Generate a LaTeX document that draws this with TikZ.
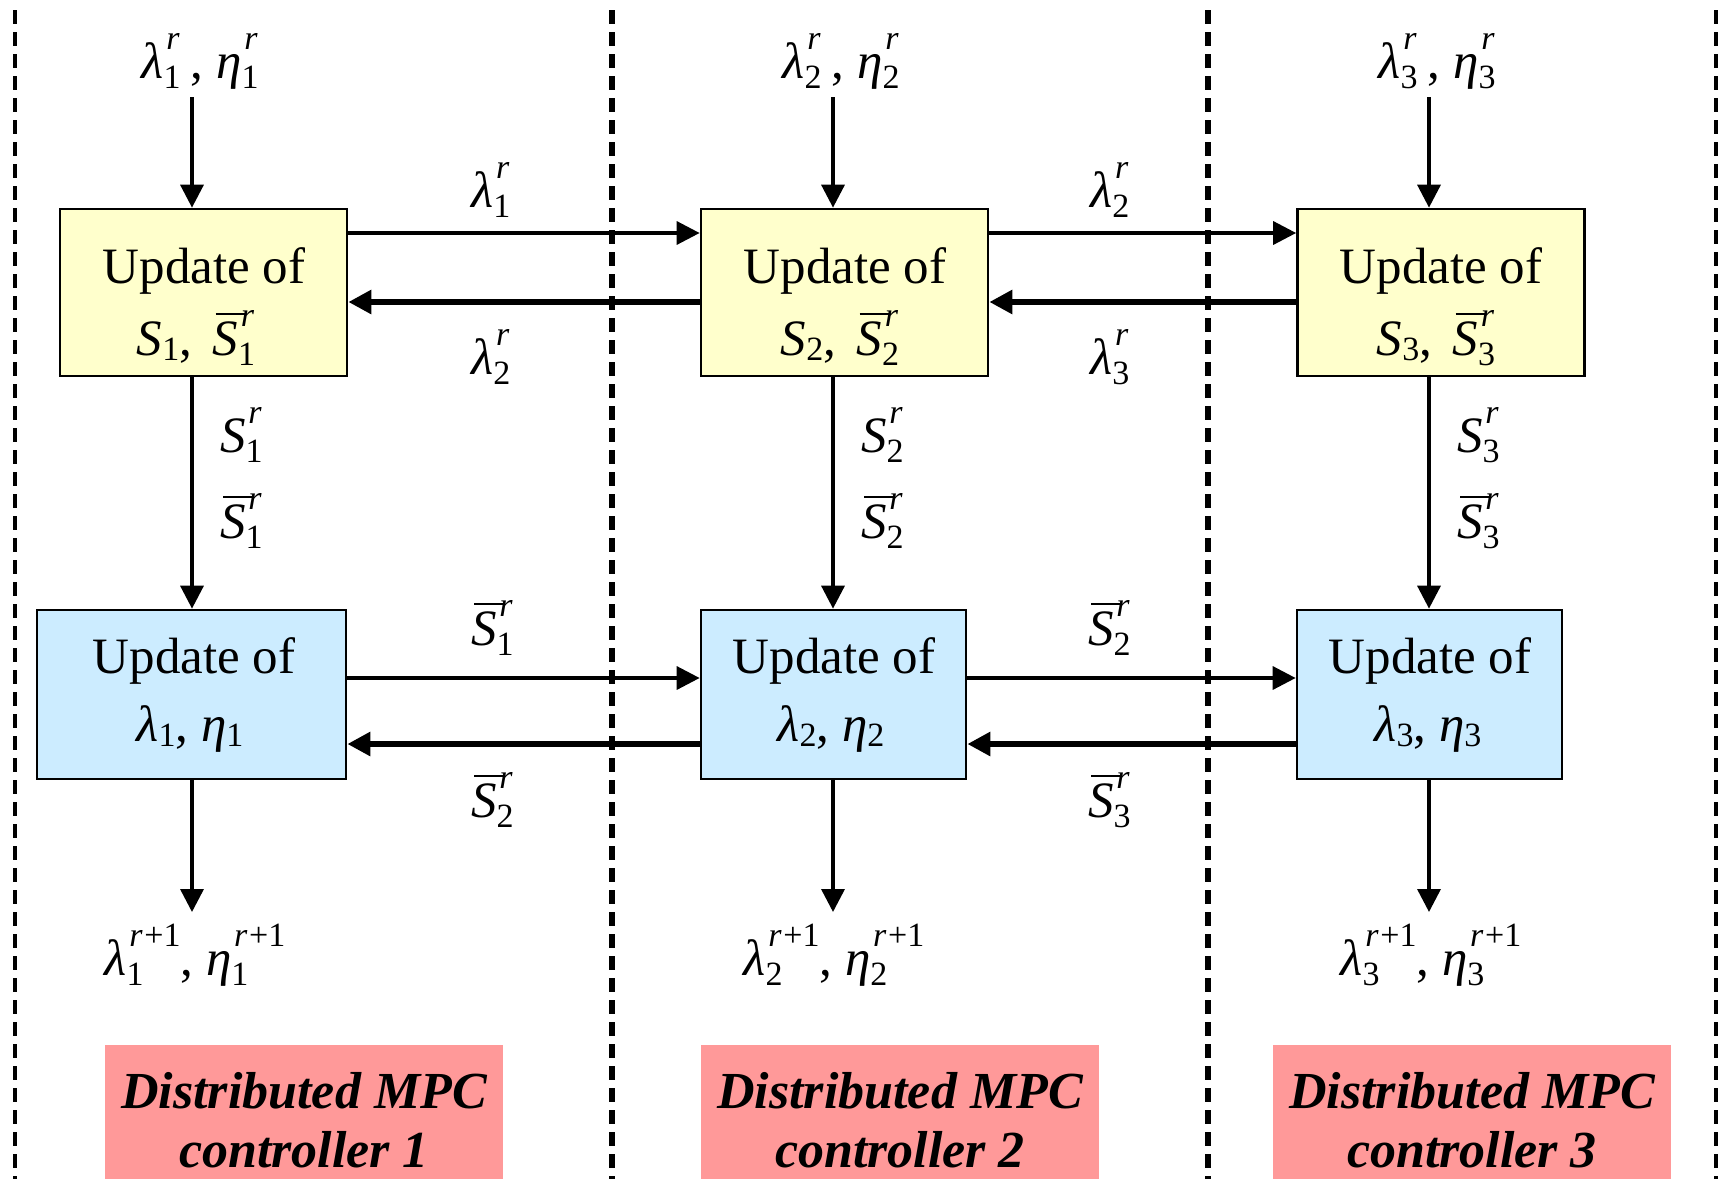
\documentclass[tikz,border=0pt]{standalone}
\usepackage{fontspec}
\setmainfont{Liberation Serif}
\usetikzlibrary{arrows.meta}
\definecolor{yel}{HTML}{FFFFCC}
\definecolor{blu}{HTML}{CCECFF}
\definecolor{redc}{HTML}{FF9999}
\newcommand\scr{\fontsize{34}{34}\selectfont}
\newcommand\supsub[2]{%
  \setbox0=\hbox{\scr\kern0.08em #1}%
  \setbox2=\hbox{\scr #2}%
  \ifdim\wd0>\wd2 \dimen0=\wd0 \else \dimen0=\wd2 \fi
  \hbox to \dimen0{\rlap{\raisebox{0.56em}{\box0}}\raisebox{-0.2em}{\box2}\hss}}
\newcommand\subx[1]{\raisebox{-0.1em}{\scr #1}}
\newcommand\Sbar{\makebox[0pt][l]{\kern0.06em\rule[0.78em]{0.58em}{0.05em}}\textit{S}}
\begin{document}
\begin{tikzpicture}[x=1pt,y=-1pt,
  box/.style={draw, line width=2.7pt, inner sep=0pt},
  ybox/.style={box, fill=yel, minimum width=287pt, minimum height=167pt},
  bbox/.style={box, fill=blu, minimum height=169pt},
  rbox/.style={fill=redc, minimum width=398pt, minimum height=140pt, inner sep=0pt},
  txt/.style={inner sep=0pt, anchor=base, font=\fontsize{51}{60}\selectfont},
  ltxt/.style={txt, anchor=base west},
  rtxt/.style={inner sep=0pt, anchor=base, font=\fontsize{52}{59}\selectfont\bfseries\itshape},
  arr/.style={line width=3.5pt, -{Triangle[length=23pt,width=23pt]}},
  tarr/.style={line width=6pt, -{Triangle[length=23pt,width=23pt]}},
  dl/.style={dash pattern=on 14pt off 8pt},
]
\useasboundingbox (0,0) rectangle (1718,1178);
\fill[white] (0,0) rectangle (1718,1178);

% dashed separators
\draw[dl, line width=3.5pt] (15,10) -- (15,1185);
\draw[dl, line width=6pt] (612,10) -- (612,1185);
\draw[dl, line width=6pt] (1208,10) -- (1208,1185);
\draw[dl, line width=4pt] (1716,10) -- (1716,1185);

% boxes
\node[ybox] (y1) at (203.5,292.5) {};
\node[ybox] (y2) at (844.5,292.5) {};
\node[ybox] (y3) at (1441,292.5) {};
\node[bbox, minimum width=309pt] (b1) at (191.5,694.5) {};
\node[bbox, minimum width=265pt] (b2) at (833.5,694.5) {};
\node[bbox, minimum width=265pt] (b3) at (1429.5,694.5) {};
\node[rbox] (r1) at (304,1115) {};
\node[rbox] (r2) at (900,1115) {};
\node[rbox] (r3) at (1472,1115) {};

% box texts
\node[txt] (y1a) at (204,283) {Update of};
\node[txt] (y1b) at (196,355) {\textit{S}\subx{1}, \hspace{0.15em}\Sbar\supsub{\textit{r}}{1}};
\node[txt] (y2a) at (845,283) {Update of};
\node[txt] (y2b) at (840,355) {\textit{S}\subx{2}, \hspace{0.15em}\Sbar\supsub{\textit{r}}{2}};
\node[txt] (y3a) at (1441,283) {Update of};
\node[txt] (y3b) at (1436,355) {\textit{S}\subx{3}, \hspace{0.15em}\Sbar\supsub{\textit{r}}{3}};
\node[txt] (b1a) at (194,673) {Update of};
\node[txt] (b1b) at (190,741) {\textit{λ}\subx{1}, \textit{η}\subx{1}};
\node[txt] (b2a) at (834,673) {Update of};
\node[txt] (b2b) at (831,741) {\textit{λ}\subx{2}, \textit{η}\subx{2}};
\node[txt] (b3a) at (1430,673) {Update of};
\node[txt] (b3b) at (1428,741) {\textit{λ}\subx{3}, \textit{η}\subx{3}};

\node[rtxt] (r1a) at (304,1108) {Distributed MPC};
\node[rtxt] (r1b) at (304,1167) {controller 1};
\node[rtxt] (r2a) at (900,1108) {Distributed MPC};
\node[rtxt] (r2b) at (900,1167) {controller 2};
\node[rtxt] (r3a) at (1472,1108) {Distributed MPC};
\node[rtxt] (r3b) at (1472,1167) {controller 3};

% input / output labels
\node[txt] (in1) at (200,78) {\textit{λ}\supsub{\textit{r}}{1}\kern0.2em, \textit{η}\supsub{\textit{r}}{1}};
\node[txt] (in2) at (841,78) {\textit{λ}\supsub{\textit{r}}{2}\kern0.2em, \textit{η}\supsub{\textit{r}}{2}};
\node[txt] (in3) at (1437,78) {\textit{λ}\supsub{\textit{r}}{3}\kern0.2em, \textit{η}\supsub{\textit{r}}{3}};
\node[txt] (out1) at (195,975) {\textit{λ}\supsub{\textit{r}\kern0.05em+1}{1}, \textit{η}\supsub{\textit{r}\kern0.05em+1}{1}};
\node[txt] (out2) at (834,975) {\textit{λ}\supsub{\textit{r}\kern0.05em+1}{2}, \textit{η}\supsub{\textit{r}\kern0.05em+1}{2}};
\node[txt] (out3) at (1431,975) {\textit{λ}\supsub{\textit{r}\kern0.05em+1}{3}, \textit{η}\supsub{\textit{r}\kern0.05em+1}{3}};

% vertical connector labels
\node[ltxt] (s1) at (220,452) {\textit{S}\supsub{\textit{r}}{1}};
\node[ltxt] (s1b) at (220,538) {\Sbar\supsub{\textit{r}}{1}};
\node[ltxt] (s2) at (861,452) {\textit{S}\supsub{\textit{r}}{2}};
\node[ltxt] (s2b) at (861,538) {\Sbar\supsub{\textit{r}}{2}};
\node[ltxt] (s3) at (1457,452) {\textit{S}\supsub{\textit{r}}{3}};
\node[ltxt] (s3b) at (1457,538) {\Sbar\supsub{\textit{r}}{3}};

% horizontal connector labels
\node[ltxt] (h1) at (471,207) {\textit{λ}\supsub{\textit{r}}{1}};
\node[ltxt] (h2) at (471,374) {\textit{λ}\supsub{\textit{r}}{2}};
\node[ltxt] (h3) at (1090,207) {\textit{λ}\supsub{\textit{r}}{2}};
\node[ltxt] (h4) at (1090,374) {\textit{λ}\supsub{\textit{r}}{3}};
\node[ltxt] (h5) at (471,645) {\Sbar\supsub{\textit{r}}{1}};
\node[ltxt] (h6) at (471,817) {\Sbar\supsub{\textit{r}}{2}};
\node[ltxt] (h7) at (1088,645) {\Sbar\supsub{\textit{r}}{2}};
\node[ltxt] (h8) at (1088,817) {\Sbar\supsub{\textit{r}}{3}};

% free ends of vertical arrows
\coordinate (t1) at (192,97);
\coordinate (t2) at (833,97);
\coordinate (t3) at (1429,97);
\coordinate (o1) at (192,912);
\coordinate (o2) at (833,912);
\coordinate (o3) at (1429,912);

% vertical arrows
\draw[arr] (t1) -- (t1 |- y1.north);
\draw[arr] (y1.south -| t1) -- (t1 |- b1.north);
\draw[arr] (b1.south -| t1) -- (o1);
\draw[arr] (t2) -- (t2 |- y2.north);
\draw[arr] (y2.south -| t2) -- (t2 |- b2.north);
\draw[arr] (b2.south -| t2) -- (o2);
\draw[arr] (t3) -- (t3 |- y3.north);
\draw[arr] (y3.south -| t3) -- (t3 |- b3.north);
\draw[arr] (b3.south -| t3) -- (o3);

% horizontal arrows
\draw[arr] ([yshift=59.5pt]y1.east) -- ([yshift=59.5pt]y2.west);
\draw[tarr] ([yshift=-9.5pt]y2.west) -- ([yshift=-9.5pt]y1.east);
\draw[arr] ([yshift=59.5pt]y2.east) -- ([yshift=59.5pt]y3.west);
\draw[tarr] ([yshift=-9.5pt]y3.west) -- ([yshift=-9.5pt]y2.east);
\draw[arr] ([yshift=16.5pt]b1.east) -- ([yshift=16.5pt]b2.west);
\draw[tarr] ([yshift=-49.5pt]b2.west) -- ([yshift=-49.5pt]b1.east);
\draw[arr] ([yshift=16.5pt]b2.east) -- ([yshift=16.5pt]b3.west);
\draw[tarr] ([yshift=-49.5pt]b3.west) -- ([yshift=-49.5pt]b2.east);
\end{tikzpicture}
\end{document}
